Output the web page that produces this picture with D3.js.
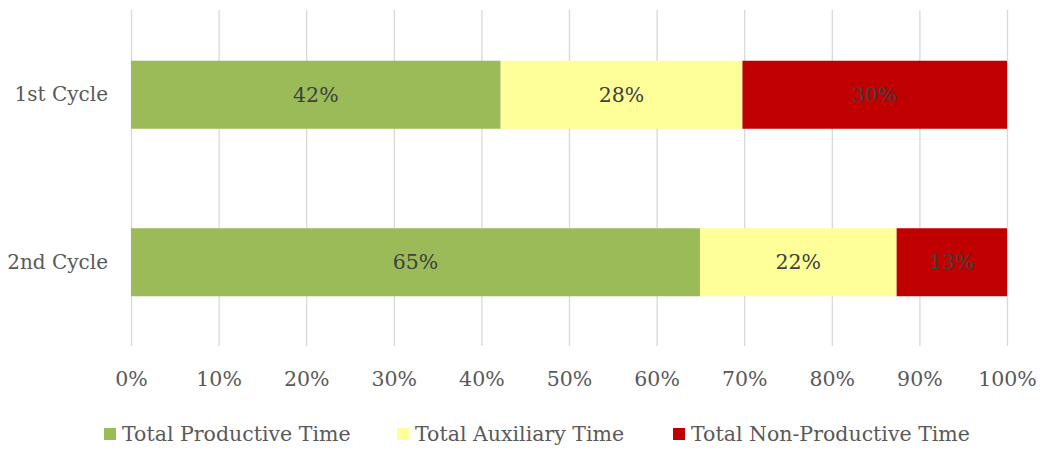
<!DOCTYPE html>
<html>
<head>
<meta charset="utf-8">
<script src="https://cdn.jsdelivr.net/npm/d3@7"></script>
<style>
  body { margin: 0; background: #fff; }
  svg text { font-family: "DejaVu Serif", serif; }
</style>
</head>
<body>
<svg id="drawing_region"></svg>
<script>
const categories = ["1st Cycle", "2nd Cycle"];
const seriesNames = ["Total Productive Time", "Total Auxiliary Time", "Total Non-Productive Time"];
const productive = [42.2, 64.95];
const auxiliary = [27.6, 22.45];
const nonProductive = [30.2, 12.6];
const barLabels = [["42%", "28%", "30%"], ["65%", "22%", "13%"]];
const tickValues = [0, 10, 20, 30, 40, 50, 60, 70, 80, 90, 100];
const colors = ["#9BBB59", "#FFFF99", "#C00000"];

const width = 1042, height = 451;
const margin = {top: 11, right: 35, bottom: 105, left: 131};
const fontSize = "20.5px";

const svg = d3.select("#drawing_region")
    .attr("width", width)
    .attr("height", height);

const xscale = d3.scaleLinear()
    .domain([0, 100])
    .range([margin.left, width - margin.right]);

const yscale = d3.scaleBand()
    .domain(categories)
    .range([margin.top, height - margin.bottom])
    .paddingInner(0.594)
    .paddingOuter(0.297);

// gridlines
svg.append("g")
    .selectAll("line")
    .data(tickValues)
    .join("line")
    .attr("x1", d => xscale(d) + 0.5)
    .attr("x2", d => xscale(d) + 0.5)
    .attr("y1", margin.top - 1)
    .attr("y2", height - margin.bottom)
    .attr("stroke", "#d9d9d9")
    .attr("stroke-width", 1.3);

// stack data
const table = categories.map((c, i) => ({
    cat: c, p: productive[i], a: auxiliary[i], n: nonProductive[i], labels: barLabels[i]
}));
const stack = d3.stack().keys(["p", "a", "n"]);
const layers = stack(table);

layers.forEach((layer, k) => {
    const g = svg.append("g");
    g.selectAll("rect")
        .data(layer)
        .join("rect")
        .attr("x", d => xscale(d[0]))
        .attr("y", d => yscale(d.data.cat))
        .attr("width", d => xscale(d[1]) - xscale(d[0]))
        .attr("height", yscale.bandwidth())
        .attr("fill", colors[k]);
    g.selectAll("text")
        .data(layer)
        .join("text")
        .attr("x", d => (xscale(d[0]) + xscale(d[1])) / 2)
        .attr("y", d => yscale(d.data.cat) + yscale.bandwidth() / 2)
        .attr("dy", "0.35em")
        .attr("text-anchor", "middle")
        .attr("font-size", fontSize)
        .attr("fill", "#404040")
        .text(d => d.data.labels[k]);
});

// x axis
const xaxis = d3.axisBottom(xscale)
    .tickValues(tickValues)
    .tickSize(0)
    .tickPadding(25)
    .tickFormat(d => d + "%");
const xg = svg.append("g")
    .attr("transform", `translate(0, ${height - margin.bottom})`)
    .call(xaxis);
xg.select(".domain").remove();
xg.selectAll("text")
    .attr("font-size", fontSize)
    .attr("font-family", "DejaVu Serif")
    .attr("fill", "#595959");

// y axis
const yaxis = d3.axisLeft(yscale).tickSize(0).tickPadding(23);
const yg = svg.append("g")
    .attr("transform", `translate(${margin.left}, 0)`)
    .call(yaxis);
yg.select(".domain").remove();
yg.selectAll("text")
    .attr("font-size", "20px")
    .attr("font-family", "DejaVu Serif")
    .attr("fill", "#595959");

// legend
const legendX = [104, 397, 673];
const legend = svg.append("g")
    .selectAll("g")
    .data(seriesNames)
    .join("g")
    .attr("transform", (d, i) => `translate(${legendX[i]}, 434)`);
legend.append("rect")
    .attr("x", 0)
    .attr("y", -6)
    .attr("width", 12)
    .attr("height", 12)
    .attr("fill", (d, i) => colors[i]);
legend.append("text")
    .attr("x", 18)
    .attr("y", 0)
    .attr("dy", "0.35em")
    .attr("font-size", fontSize)
    .attr("fill", "#595959")
    .text(d => d);
</script>
</body>
</html>
